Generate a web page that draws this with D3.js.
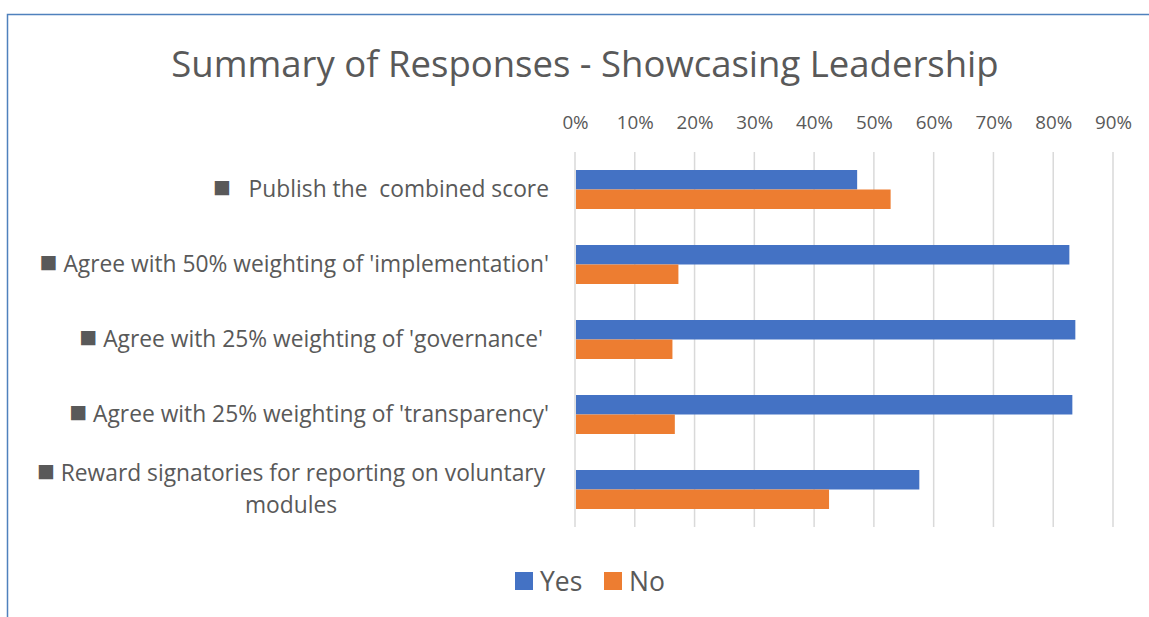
<html>
<head>
<script src="https://d3js.org/d3.v7.min.js"></script>
<style>
body { margin: 0; background: #fff; }
text { font-family: "Open Sans", sans-serif; fill: #595959; }
</style>
</head>
<body>
<div id="chart"></div>
<script>
// data
var categories = [
  "\u25A0   Publish the  combined score",
  "\u25A0 Agree with 50% weighting of 'implementation'",
  "\u25A0 Agree with 25% weighting of 'governance' ",
  "\u25A0 Agree with 25% weighting of 'transparency'",
  "\u25A0 Reward signatories for reporting on voluntary|modules"
];
var yesValues = [0.472, 0.827, 0.837, 0.832, 0.576];
var noValues  = [0.528, 0.173, 0.163, 0.167, 0.425];
var seriesNames = ["Yes", "No"];
var seriesColors = ["#4472C4", "#ED7D31"];
var ticks = [0, 0.1, 0.2, 0.3, 0.4, 0.5, 0.6, 0.7, 0.8, 0.9];

var width = 1149, height = 617;
var svg = d3.select("#chart").append("svg")
  .attr("width", width).attr("height", height);

// chart border (runs off right and bottom)
svg.append("rect")
  .attr("x", 7.5).attr("y", 14.5)
  .attr("width", 1200).attr("height", 700)
  .attr("fill", "none").attr("stroke", "#4F81BD").attr("stroke-width", 1.5);

svg.append("text")
  .attr("x", 585).attr("y", 77)
  .attr("text-anchor", "middle")
  .style("font-size", "36.5px")
  .text("Summary of Responses - Showcasing Leadership");

var x = d3.scaleLinear().domain([0, 0.9]).range([575, 1113]);
var y = d3.scaleBand().domain(d3.range(categories.length)).range([152, 527]).paddingInner(0.48).paddingOuter(0.24);
var ySub = d3.scaleBand().domain([0, 1]).range([0, y.bandwidth()]);

// gridlines
svg.append("g").selectAll("line").data(ticks).enter().append("line")
  .attr("x1", function(d) { return x(d); }).attr("x2", function(d) { return x(d); })
  .attr("y1", 152).attr("y2", 527)
  .attr("stroke", "#D9D9D9").attr("stroke-width", 1.5);

// top axis labels
var axis = d3.axisTop(x).tickValues(ticks).tickFormat(d3.format(".0%")).tickSize(0).tickPadding(0);
var ax = svg.append("g").attr("transform", "translate(0,129)").call(axis);
ax.select(".domain").remove();
ax.selectAll("text").style("font-size", "18.8px").attr("dy", 0).attr("fill", "#595959");

// bars
var rows = svg.append("g").selectAll("g").data(categories).enter().append("g")
  .attr("transform", function(d, i) { return "translate(0," + y(i) + ")"; });

rows.append("rect")
  .attr("x", x(0) + 1)
  .attr("y", ySub(0))
  .attr("width", function(d, i) { return x(yesValues[i]) - x(0) - 1; })
  .attr("height", ySub.bandwidth())
  .attr("fill", seriesColors[0]);

rows.append("rect")
  .attr("x", x(0) + 1)
  .attr("y", ySub(1))
  .attr("width", function(d, i) { return x(noValues[i]) - x(0) - 1; })
  .attr("height", ySub.bandwidth())
  .attr("fill", seriesColors[1]);

// writes a line, with the leading square glyph drawn a bit larger
function addLine(t, str) {
  if (str.charAt(0) == "\u25A0") {
    t.append("tspan").style("font-size", "1.3em").text("\u25A0");
    t.append("tspan").style("white-space", "pre").text(str.slice(1));
  } else {
    t.append("tspan").text(str);
  }
}

// category labels
rows.each(function(d, i) {
  var g = d3.select(this);
  var lines = d.split("|");
  var mid = y.bandwidth() / 2;
  if (lines.length == 1) {
    var t1 = g.append("text")
      .attr("x", 549).attr("y", mid)
      .attr("dy", "0.35em")
      .attr("text-anchor", "end")
      .style("font-size", "22.8px")
      .style("white-space", "pre");
    addLine(t1, lines[0]);
  } else {
    var t = g.append("text")
      .attr("text-anchor", "middle")
      .style("font-size", "22.8px")
      .style("white-space", "pre");
    lines.forEach(function(s, k) {
      var line = t.append("tspan").attr("x", 291).attr("y", mid + (k == 0 ? -16 : 16)).attr("dy", "0.35em");
      addLine(line, s);
    });
  }
});

// legend
var legend = svg.append("g").selectAll("g").data(seriesNames).enter().append("g")
  .attr("transform", function(d, i) { return "translate(" + (515 + i * 89) + ",572)"; });
legend.append("rect").attr("width", 18).attr("height", 18)
  .attr("fill", function(d, i) { return seriesColors[i]; });
legend.append("text").attr("x", 25).attr("y", 19)
  .style("font-size", "26.5px").text(function(d) { return d; });
</script>
</body>
</html>
